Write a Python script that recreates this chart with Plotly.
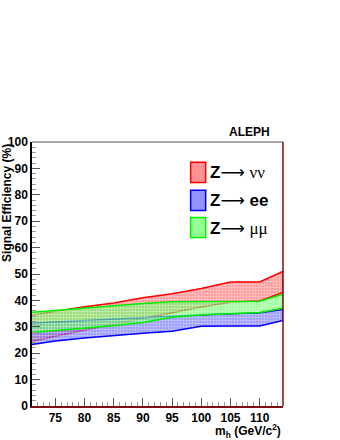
import plotly.graph_objects as go

# Higgs mass points (GeV/c^2)
mh = [71, 75, 80, 85, 90, 95, 100, 105, 110, 114]

# efficiency bands (%), lower / upper edge
nunu_lo = [24.5, 26.5, 28.8, 31.0, 33.2, 35.5, 37.5, 39.3, 39.8, 43.0]
nunu_hi = [34.5, 36.0, 37.6, 39.0, 41.0, 42.5, 44.5, 47.0, 47.0, 51.0]
ee_lo = [23.3, 24.6, 25.8, 26.8, 27.6, 28.3, 30.2, 30.3, 30.3, 32.4]
ee_hi = [31.3, 31.8, 32.3, 33.0, 33.5, 34.0, 34.6, 35.0, 35.3, 36.6]
mumu_lo = [27.8, 28.5, 29.3, 30.4, 31.6, 33.6, 34.5, 35.0, 35.4, 37.0]
mumu_hi = [35.5, 36.2, 37.0, 38.0, 38.8, 39.5, 39.7, 39.7, 39.7, 42.3]

bands = [
    ("nunu", nunu_lo, nunu_hi, "#ff0000", "rgba(255,90,90,0.6)"),
    ("ee", ee_lo, ee_hi, "#0000ff", "rgba(90,90,255,0.6)"),
    ("mumu", mumu_lo, mumu_hi, "#00ee00", "rgba(90,255,90,0.6)"),
]

fig = go.Figure()
for name, lo, hi, col, light in bands:
    fig.add_trace(go.Scatter(
        x=mh + mh[::-1],
        y=lo + hi[::-1],
        mode="lines",
        fill="toself",
        fillcolor=light,
        fillpattern={"shape": ".", "fgcolor": "white", "bgcolor": light,
                     "size": 3, "solidity": 0.4},
        line={"color": col, "width": 1.5},
        name=name,
        showlegend=False,
    ))

tick_font = {"family": "Liberation Sans, Arial", "size": 12, "color": "black"}

fig.update_layout(
    width=340,
    height=440,
    margin={"l": 32, "r": 57, "t": 142, "b": 34},
    paper_bgcolor="white",
    plot_bgcolor="white",
    font={"family": "Liberation Sans, Arial", "color": "black"},
)
fig.update_xaxes(
    range=[71, 114],
    automargin=False,
    tickvals=[75, 80, 85, 90, 95, 100, 105, 110],
    ticktext=["<b>%d</b>" % v for v in [75, 80, 85, 90, 95, 100, 105, 110]],
    tickfont=tick_font,
    ticks="inside", ticklen=8, tickcolor="#555",
    minor={"dtick": 1, "ticks": "inside", "ticklen": 4, "tickcolor": "#999"},
    showgrid=False, zeroline=False,
    showline=True, linecolor="#7a1010", linewidth=1.5,
)
fig.update_yaxes(
    range=[0, 100],
    automargin=False,
    tickvals=list(range(0, 101, 10)),
    ticktext=["<b>%d</b>" % v for v in range(0, 101, 10)],
    tickfont=tick_font,
    ticks="inside", ticklen=8, tickcolor="#555",
    minor={"dtick": 2, "ticks": "inside", "ticklen": 4, "tickcolor": "#999"},
    showgrid=False, zeroline=False,
    showline=True, linecolor="black", linewidth=1.5,
)

# frame: top and right
fig.add_shape(type="line", xref="paper", yref="paper", x0=0, x1=1, y0=1, y1=1,
              line={"color": "#555", "width": 1.2})
fig.add_shape(type="line", xref="paper", yref="paper", x0=1, x1=1, y0=0, y1=1,
              line={"color": "#7a1010", "width": 1.5})

# legend boxes and labels
arrow = "<span style='font-family:DejaVu Sans;font-weight:normal'>⟶</span>"
serif = "<span style='font-family:Liberation Serif;font-weight:normal'>%s</span>"
legend_rows = [
    (0.885, "#ff0000", "rgba(255,120,120,0.8)", "<b>Z</b>" + arrow + " " + serif % "νν"),
    (0.779, "#0000ff", "rgba(120,120,255,0.8)", "<b>Z</b>" + arrow + "<b> ee</b>"),
    (0.676, "#00ee00", "rgba(120,255,120,0.8)", "<b>Z</b>" + arrow + " " + serif % "μμ"),
]
for yc, col, light, label in legend_rows:
    fig.add_shape(type="rect", xref="paper", yref="paper",
                  x0=0.632, x1=0.692, y0=yc - 0.038, y1=yc + 0.038,
                  fillcolor=light, line={"color": col, "width": 1.5})
    fig.add_annotation(xref="paper", yref="paper", x=0.700, y=yc,
                       xanchor="left", yanchor="middle", showarrow=False,
                       text=label, font={"size": 17, "color": "black"})

fig.add_annotation(xref="paper", yref="paper", x=0.867, y=1.036,
                   xanchor="center", yanchor="middle", showarrow=False,
                   text="<b>ALEPH</b>", font={"size": 12})
fig.add_annotation(xref="paper", yref="paper", x=1.0, y=-0.094,
                   xanchor="right", yanchor="middle", showarrow=False,
                   text="<b>m<sub>h</sub> (GeV/c<sup>2</sup>)</b>", font={"size": 12})
fig.add_annotation(xref="paper", yref="paper", x=-0.097, y=0.768,
                   xanchor="center", yanchor="middle", showarrow=False, textangle=-90,
                   text="<b>Signal Efficiency (%)</b>", font={"size": 12})

fig.write_html("out.html", config={"displayModeBar": False},
               post_script="document.body.style.margin='0';")
